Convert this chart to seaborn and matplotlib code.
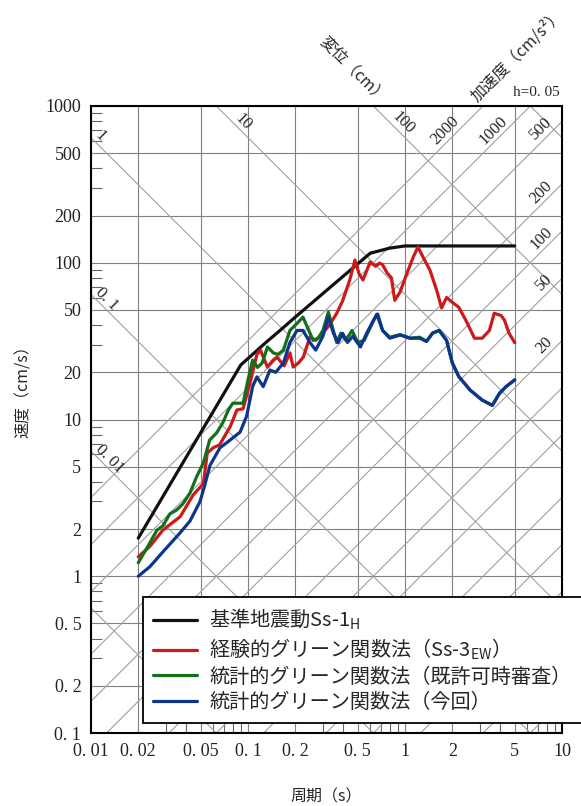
import numpy as np
import matplotlib
matplotlib.use("Agg")
import matplotlib.pyplot as plt
import seaborn as sns
from matplotlib.ticker import LogLocator, NullFormatter, FixedLocator

# pseudo velocity response spectra, period (s) vs velocity (cm/s)
t_ss1 = [0.02, 0.09, 0.1, 0.13, 0.16, 0.2, 0.6, 0.8, 1.0, 5.0]
v_ss1 = [1.75, 22.3, 24.5, 31, 37, 45, 115, 124, 128, 128]

t_egf = [0.02, 0.0237, 0.0287, 0.037, 0.0447, 0.052, 0.055, 0.06, 0.066, 0.077, 0.085,
         0.093, 0.103, 0.114, 0.12, 0.133, 0.145, 0.153, 0.17, 0.185, 0.194, 0.21,
         0.225, 0.248, 0.27, 0.3, 0.33, 0.367, 0.40, 0.445, 0.48, 0.51, 0.54, 0.6,
         0.65, 0.69, 0.72, 0.77, 0.82, 0.86, 0.93, 1.03, 1.13, 1.21, 1.3, 1.44, 1.59,
         1.71, 1.84, 2.0, 2.2, 2.44, 2.77, 3.1, 3.45, 3.7, 4.1, 4.3, 4.6, 5.0]
v_egf = [1.33, 1.55, 1.97, 2.4, 3.3, 3.9, 6.1, 6.6, 6.9, 9.0, 11.5,
         11.7, 17.1, 26, 27.7, 21.6, 24, 25, 22, 26.6, 21.6, 23,
         25, 33.7, 32, 35.7, 40, 47.5, 57, 77.7, 104, 85, 77.7, 101,
         95, 99.6, 97, 86, 80, 57.6, 65, 86, 109, 126, 109, 90, 67,
         51.5, 60, 56, 52, 43, 33, 33, 37, 47.6, 46, 43, 35.5, 30.9]

t_sgf_old = [0.02, 0.0237, 0.0263, 0.0287, 0.0318, 0.0352, 0.0385, 0.0427, 0.047, 0.052,
             0.057, 0.063, 0.069, 0.075, 0.08, 0.093, 0.1, 0.107, 0.115, 0.123, 0.133,
             0.145, 0.155, 0.168, 0.185, 0.205, 0.224, 0.237, 0.26, 0.28, 0.3, 0.325,
             0.34, 0.367, 0.39, 0.42, 0.46, 0.5, 0.55, 0.6, 0.66, 0.72, 0.8, 0.93, 1.08,
             1.24, 1.37, 1.5, 1.65, 1.84, 2.0, 2.2, 2.6, 3.1, 3.6, 4.0, 4.4, 5.0]
v_sgf_old = [1.22, 1.63, 1.97, 2.1, 2.5, 2.65, 2.9, 3.4, 4.3, 5.3,
             7.4, 8.2, 9.5, 11.5, 12.7, 12.7, 17.9, 23.9, 21.5, 22.9, 29,
             26.6, 26, 27.7, 37, 41, 45, 39.5, 32, 33, 37, 48.5,
             41, 31, 35.5, 32, 37, 31, 32, 38.5, 47, 37, 33.5, 34.8, 33,
             33.5, 31.5, 35.6, 37, 32, 23, 18.8, 15.4, 13.3, 12.3, 14.7, 16.2, 17.9]

t_sgf_new = [0.02, 0.0237, 0.0287, 0.0369, 0.0427, 0.0495, 0.053, 0.0573, 0.0663, 0.073,
             0.089, 0.098, 0.107, 0.114, 0.125, 0.138, 0.15, 0.168, 0.185, 0.205, 0.224,
             0.248, 0.27, 0.3, 0.325, 0.35, 0.375, 0.4, 0.43, 0.465, 0.52, 0.57, 0.63,
             0.67, 0.72, 0.8, 0.93, 1.08, 1.24, 1.37, 1.5, 1.65, 1.84, 2.0, 2.2, 2.6,
             3.1, 3.6, 4.0, 4.4, 5.0]
v_sgf_new = [1.0, 1.15, 1.43, 1.89, 2.25, 3.0, 3.8, 5.1, 6.6, 7.1,
             8.3, 10.5, 16.2, 18.7, 16.2, 20.7, 20, 22.9, 31, 37, 37,
             31, 27.7, 34, 45, 35.5, 31, 35.5, 31, 34, 29, 35.5, 43,
             47, 37, 33, 34.6, 33, 33, 31.5, 35.6, 37, 32, 23, 18.8, 15.4,
             13.3, 12.3, 14.7, 16.2, 17.9]

series_labels = ["基準地震動Ss-1$_\\mathregular{H}$",
                 "経験的グリーン関数法（Ss-3$_\\mathregular{EW}$）",
                 "統計的グリーン関数法（既許可時審査）",
                 "統計的グリーン関数法（今回）"]
series_colors = ["#111111", "#cc1a1a", "#13701a", "#0d3590"]

x_ticks = [0.01, 0.02, 0.05, 0.1, 0.2, 0.5, 1, 2, 5, 10]
x_ticklabels = ["0. 01", "0. 02", "0. 05", "0. 1", "0. 2", "0. 5", "1", "2", "5", "10"]
y_ticks = [0.1, 0.2, 0.5, 1, 2, 5, 10, 20, 50, 100, 200, 500, 1000]
y_ticklabels = ["0. 1", "0. 2", "0. 5", "1", "2", "5", "10", "20", "50", "100", "200", "500", "1000"]

# tripartite guide lines
disp_levels = [0.001, 0.01, 0.1, 1, 10, 100, 1000]
acc_levels = [0.1, 0.2, 0.5, 1, 2, 5, 10, 20, 50, 100, 200, 500, 1000, 2000]

sns.set_style("white")
plt.rcParams["font.family"] = ["Noto Sans CJK JP", "DejaVu Sans"]
serif = ["Liberation Serif", "DejaVu Serif"]

W, H = 581, 806
def fx(px):
    return px / W
def fy(py):
    return 1 - py / H

fig = plt.figure(figsize=(W / 100, H / 100), dpi=100)
ax = fig.add_axes([fx(91), fy(733), 471 / W, 627 / H])
ax.set_xscale("log")
ax.set_yscale("log")

tt = np.array([0.01, 10.0])
for d in disp_levels:
    ax.plot(tt, 2 * np.pi * d / tt, color="#a0a0a0", lw=0.8, zorder=1)
for a in acc_levels:
    ax.plot(tt, a * tt / (2 * np.pi), color="#a0a0a0", lw=0.8, zorder=1)

data = [(t_ss1, v_ss1), (t_egf, v_egf), (t_sgf_old, v_sgf_old), (t_sgf_new, v_sgf_new)]
for (t, v), lab, col in zip(data, series_labels, series_colors):
    sns.lineplot(x=t, y=v, ax=ax, color=col, lw=2.3, label=lab, zorder=3,
                 estimator=None, sort=False)

ax.set_xlim(0.01, 10)
ax.set_ylim(0.1, 1000)
ax.xaxis.set_major_locator(FixedLocator(x_ticks))
ax.yaxis.set_major_locator(FixedLocator(y_ticks))
ax.set_xticklabels(x_ticklabels, fontfamily=serif, fontsize=13)
ax.set_yticklabels(y_ticklabels, fontfamily=serif, fontsize=13)
ax.xaxis.set_minor_locator(LogLocator(base=10, subs=[3, 4, 6, 7, 8, 9]))
ax.yaxis.set_minor_locator(LogLocator(base=10, subs=[3, 4, 6, 7, 8, 9]))
ax.xaxis.set_minor_formatter(NullFormatter())
ax.yaxis.set_minor_formatter(NullFormatter())
ax.tick_params(which="major", length=0, pad=7, colors="#222222")
ax.tick_params(which="minor", direction="in", length=8, width=0.8, color="#666666",
               left=True, bottom=True, top=False, right=False)
ax.grid(True, which="major", color="#808080", lw=0.8, zorder=0)
ax.grid(False, which="minor")
for s in ax.spines.values():
    s.set_color("black")
    s.set_linewidth(1.5)
ax.set_xlabel("")
ax.set_ylabel("")

leg = ax.legend(loc="upper left", bbox_to_anchor=(fx(143), fy(597)),
                bbox_transform=fig.transFigure, frameon=True, fancybox=False,
                edgecolor="black", framealpha=1, fontsize=14.5, handlelength=2.2,
                handletextpad=0.6, labelspacing=0.22, borderpad=0.5, borderaxespad=0)
leg.get_frame().set_linewidth(1.3)
leg.set_zorder(10)

# axis titles
fig.text(fx(23), fy(388), "速度（cm/s）", rotation=90, ha="center", va="center", fontsize=11.5)
fig.text(fx(326), fy(797), "周期（s）", ha="center", va="center", fontsize=11.5)
fig.text(fx(352), fy(70), "変位（cm）", rotation=-45, rotation_mode="anchor",
         ha="center", va="center", fontsize=11.5)
fig.text(fx(517), fy(55), "加速度（cm/s²）", rotation=45, rotation_mode="anchor",
         ha="center", va="center", fontsize=11.5)
fig.text(fx(536), fy(93), "h=0. 05", ha="center", va="center", fontsize=11, fontfamily=serif)

# labels on the guide lines
disp_text = [("1", 100, 136), ("10", 243, 122), ("100", 403, 123),
             ("0. 1", 107, 299), ("0. 01", 110, 459)]
for s, px, py in disp_text:
    fig.text(fx(px), fy(py), s, rotation=-45, rotation_mode="anchor", ha="center",
             va="center", fontsize=12, fontfamily=serif)
acc_text = [("2000", 445, 131), ("1000", 493, 130), ("500", 541, 128), ("200", 541, 192),
            ("100", 541, 238), ("50", 544, 282), ("20", 544, 345)]
for s, px, py in acc_text:
    fig.text(fx(px), fy(py), s, rotation=45, rotation_mode="anchor", ha="center",
             va="center", fontsize=12, fontfamily=serif)

fig.savefig("out.png", dpi=100, facecolor="white")
